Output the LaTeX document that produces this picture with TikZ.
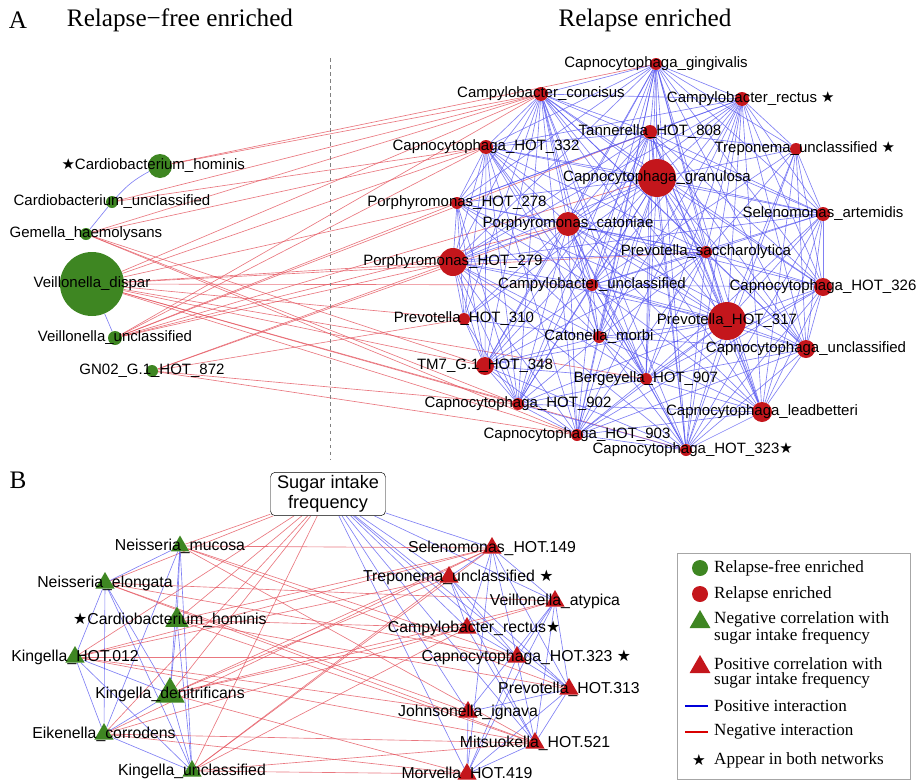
\documentclass[tikz,border=0pt]{standalone}
\usepackage{fontspec}
\setmainfont{Liberation Serif}
\setsansfont{Liberation Sans}
\newfontfamily\starfont{DejaVu Sans}
\usetikzlibrary{shapes.geometric,backgrounds}

\definecolor{freegreen}{RGB}{62,134,34}
\definecolor{relred}{RGB}{196,22,28}
\definecolor{posblue}{RGB}{85,85,240}
\definecolor{negred}{RGB}{228,85,95}
\newcommand{\bstar}{{\starfont ★}}

\tikzset{
  gdot/.style={circle, fill=freegreen, inner sep=0pt, minimum size={#1*0.06cm}},
  rdot/.style={circle, fill=relred, inner sep=0pt, minimum size={#1*0.06cm}},
  gtri/.style={regular polygon, regular polygon sides=3, fill=freegreen, inner sep=0pt, minimum size={#1*0.03cm}},
  rtri/.style={regular polygon, regular polygon sides=3, fill=relred, inner sep=0pt, minimum size={#1*0.03cm}},
  every label/.style={font=\sffamily\fontsize{12.8}{14}\selectfont, inner sep=0pt},
  posedge/.style={posblue, line width=0.55pt, opacity=0.75},
  negedge/.style={negred, line width=0.55pt, opacity=0.8},
  paneltitle/.style={font=\fontsize{21.5}{24}\selectfont, inner sep=0pt},
  legtext/.style={anchor=west, align=left, inner sep=0pt, font=\fontsize{14.6}{13.2}\selectfont},
}

\begin{document}
\begin{tikzpicture}[x=0.03cm, y=-0.03cm]
\useasboundingbox (0,0) rectangle (917,780);

% panel A
\node[paneltitle] (lettera) at (18,20) {A};
\node[paneltitle] (freetitle) at (180,20) {Relapse−free enriched};
\node[paneltitle] (reltitle) at (645,20) {Relapse enriched};
\draw[gray, dashed, line width=0.6pt] (330,58) -- (330,460);

\node[gdot=12, label={center:\llap{\bstar}Cardiobacterium\_hominis}] (hominis) at (160,166) {};
\node[gdot=6, label={center:Cardiobacterium\_unclassified}] (cardun) at (112,202) {};
\node[gdot=6, label={center:Gemella\_haemolysans}] (gemella) at (86,234) {};
\node[gdot=32, label={center:Veillonella\_dispar}] (vdispar) at (92,284) {};
\node[gdot=7, label={center:Veillonella\_unclassified}] (veilun) at (115,338) {};
\node[gdot=6, label={center:GN02\_G.1\_HOT\_872}] (gn02) at (152,371) {};

\node[rdot=6, label={center:Capnocytophaga\_gingivalis}] (gingi) at (656,64) {};
\node[rdot=7, label={center:Campylobacter\_concisus}] (concis) at (541,94) {};
\node[rdot=7, label={center:Campylobacter\_rectus\rlap{ \bstar}}] (rectus) at (742,99) {};
\node[rdot=7, label={center:Tannerella\_HOT\_808}] (tann808) at (650,132) {};
\node[rdot=6, label={center:Treponema\_unclassified\rlap{ \bstar}}] (trepun) at (796,149) {};
\node[rdot=7, label={center:Capnocytophaga\_HOT\_332}] (capno332) at (486,147) {};
\node[rdot=19, label={center:Capnocytophaga\_granulosa}] (granul) at (657,178) {};
\node[rdot=6, label={center:Porphyromonas\_HOT\_278}] (porph278) at (457,203) {};
\node[rdot=12, label={center:Porphyromonas\_catoniae}] (caton) at (568,224) {};
\node[rdot=7, label={center:Selenomonas\_artemidis}] (artem) at (823,214) {};
\node[rdot=6, label={center:Prevotella\_saccharolytica}] (sacch) at (706,252) {};
\node[rdot=14, label={center:Porphyromonas\_HOT\_279}] (porph279) at (453,262) {};
\node[rdot=6, label={center:Campylobacter\_unclassified}] (campun) at (592,285) {};
\node[rdot=9, label={center:Capnocytophaga\_HOT\_326}] (capno326) at (823,287) {};
\node[rdot=19, label={center:Prevotella\_HOT\_317}] (prev317) at (727,321) {};
\node[rdot=6, label={center:Prevotella\_HOT\_310}] (prev310) at (464,319) {};
\node[rdot=6, label={center:Catonella\_morbi}] (morbi) at (599,337) {};
\node[rdot=9, label={center:Capnocytophaga\_unclassified}] (capnoun) at (806,349) {};
\node[rdot=9, label={center:TM7\_G.1\_HOT\_348}] (tm7) at (485,366) {};
\node[rdot=6, label={center:Bergeyella\_HOT\_907}] (berg907) at (646,379) {};
\node[rdot=6, label={center:Capnocytophaga\_HOT\_902}] (capno902) at (518,404) {};
\node[rdot=10, label={center:Capnocytophaga\_leadbetteri}] (leadb) at (762,412) {};
\node[rdot=6, label={center:Capnocytophaga\_HOT\_903}] (capno903) at (577,435) {};
\node[rdot=6, label={center:Capnocytophaga\_HOT\_323\rlap{\bstar}}] (capno323) at (686,450) {};

\begin{pgfonlayer}{background}
% green - green
\draw[posedge] (hominis) to[bend right=10] (cardun);
\draw[posedge] (cardun) -- (gemella);
\draw[posedge] (vdispar) -- (veilun);
% green - red
\foreach \t in {concis,gingi} \draw[negedge] (hominis) -- (\t);
\foreach \t in {concis,capno332} \draw[negedge] (cardun) -- (\t);
\foreach \t in {concis,capno332,tm7,capno902,capno903} \draw[negedge] (gemella) -- (\t);
\foreach \t in {concis,capno332,porph278,porph279,prev310,sacch,campun,tm7,capno902,capno903,berg907,capno323} \draw[negedge] (vdispar) -- (\t);
\foreach \t in {concis,tann808,capno332,porph278,porph279,granul,caton} \draw[negedge] (veilun) -- (\t);
\foreach \t in {porph279,prev310,capno902,capno903,caton} \draw[negedge] (gn02) -- (\t);
% red - red
\foreach \t in {concis,rectus,tann808,trepun,capno332,granul,porph278,caton,artem,sacch,porph279,campun,capno326,prev317,morbi,capnoun,tm7,berg907,capno902,leadb,capno903,capno323} \draw[posedge] (gingi) -- (\t);
\foreach \t in {rectus,tann808,capno332,granul,porph278,caton,sacch,porph279,campun,capno326,prev317,prev310,morbi,capnoun,tm7,berg907,capno902,leadb,capno903,capno323,artem} \draw[posedge] (concis) -- (\t);
\foreach \t in {tann808,trepun,capno332,granul,caton,artem,sacch,porph279,campun,capno326,prev317,morbi,capnoun,berg907,leadb,capno903,capno323,porph278} \draw[posedge] (rectus) -- (\t);
\foreach \t in {trepun,capno332,granul,porph278,caton,artem,sacch,porph279,campun,capno326,prev317,morbi,capnoun,tm7,berg907,capno902,leadb,capno323} \draw[posedge] (tann808) -- (\t);
\foreach \t in {granul,artem,sacch,capno326,prev317,capnoun,leadb,campun,capno323} \draw[posedge] (trepun) -- (\t);
\foreach \t in {granul,porph278,caton,sacch,porph279,campun,prev317,prev310,morbi,tm7,berg907,capno902,capno903,artem} \draw[posedge] (capno332) -- (\t);
\foreach \t in {porph278,caton,artem,sacch,porph279,campun,capno326,prev317,prev310,morbi,capnoun,tm7,berg907,capno902,leadb,capno903,capno323} \draw[posedge] (granul) -- (\t);
\foreach \t in {caton,sacch,porph279,campun,prev310,morbi,tm7,capno902,prev317} \draw[posedge] (porph278) -- (\t);
\foreach \t in {artem,sacch,porph279,campun,capno326,prev317,prev310,morbi,capnoun,tm7,berg907,capno902,leadb,capno903,capno323} \draw[posedge] (caton) -- (\t);
\foreach \t in {sacch,campun,capno326,prev317,capnoun,leadb,berg907,capno323,porph279} \draw[posedge] (artem) -- (\t);
\foreach \t in {porph279,campun,capno326,prev317,morbi,capnoun,berg907,leadb,capno903,capno323,tm7} \draw[posedge] (sacch) -- (\t);
\foreach \t in {campun,prev317,prev310,morbi,tm7,berg907,capno902,capno903,capno323} \draw[posedge] (porph279) -- (\t);
\foreach \t in {capno326,prev317,morbi,capnoun,tm7,berg907,capno902,leadb,capno903,capno323} \draw[posedge] (campun) -- (\t);
\foreach \t in {prev317,capnoun,leadb,capno323,berg907,capno903} \draw[posedge] (capno326) -- (\t);
\foreach \t in {morbi,capnoun,tm7,berg907,capno902,leadb,capno903,capno323} \draw[posedge] (prev317) -- (\t);
\foreach \t in {tm7,capno902,morbi} \draw[posedge] (prev310) -- (\t);
\foreach \t in {capnoun,tm7,berg907,capno902,leadb,capno903,capno323} \draw[posedge] (morbi) -- (\t);
\foreach \t in {berg907,leadb,capno323,capno903} \draw[posedge] (capnoun) -- (\t);
\foreach \t in {berg907,capno902,capno903,capno323} \draw[posedge] (tm7) -- (\t);
\foreach \t in {capno902,leadb,capno903,capno323} \draw[posedge] (berg907) -- (\t);
\foreach \t in {capno903,capno323,leadb} \draw[posedge] (capno902) -- (\t);
\foreach \t in {capno903,capno323} \draw[posedge] (leadb) -- (\t);
\draw[posedge] (capno903) -- (capno323);
\end{pgfonlayer}

% panel B
\node[paneltitle] (letterb) at (18,480) {B};
\node[draw, rounded corners=4pt, align=center, inner sep=1pt, minimum width=3.45cm, minimum height=1.3cm,
  font=\sffamily\fontsize{15.5}{17}\selectfont] (sugar) at (328,494) {Sugar intake\\frequency};

\begin{scope}[every label/.append style={font=\sffamily\fontsize{13.5}{15}\selectfont}]
\node[gtri=21, label={center:Neisseria\_mucosa}] (nmucosa) at (180,546) {};
\node[gtri=22, label={center:Neisseria\_elongata}] (nelong) at (105,583) {};
\node[gtri=27, label={center:\llap{\bstar}Cardiobacterium\_hominis}] (bhominis) at (177,620) {};
\node[gtri=22, label={center:Kingella\_HOT.012}] (king012) at (75,657) {};
\node[gtri=34, label={center:Kingella\_denitrificans}] (kdenit) at (170,694) {};
\node[gtri=22, label={center:Eikenella\_corrodens}] (eikenella) at (104,734) {};
\node[gtri=22, label={center:Kingella\_unclassified}] (kingun) at (192,771) {};

\node[rtri=22, label={center:Selenomonas\_HOT.149}] (sel149) at (492,548) {};
\node[rtri=22, label={center:Treponema\_unclassified\rlap{ \bstar}}] (btrep) at (449,577) {};
\node[rtri=22, label={center:Veillonella\_atypica}] (vatyp) at (555,601) {};
\node[rtri=22, label={center:Campylobacter\_rectus\rlap{\bstar}}] (brectus) at (467,628) {};
\node[rtri=22, label={center:Capnocytophaga\_HOT.323\rlap{ \bstar}}] (b323) at (517,657) {};
\node[rtri=22, label={center:Prevotella\_HOT.313}] (prev313) at (569,689) {};
\node[rtri=22, label={center:Johnsonella\_ignava}] (johns) at (468,712) {};
\node[rtri=22, label={center:Mitsuokella\_HOT.521}] (mits521) at (535,743) {};
\node[rtri=22, label={center:Morvella\_HOT.419}] (morv419) at (467,774) {};
\end{scope}

\begin{pgfonlayer}{background}
\foreach \t in {nmucosa,nelong,bhominis,king012,kdenit,eikenella,kingun} \draw[negedge] (sugar) -- (\t);
\foreach \t in {sel149,btrep,vatyp,brectus,b323,prev313,johns,mits521,morv419} \draw[posedge] (sugar) -- (\t);
% green - green
\foreach \t in {nelong,bhominis,kdenit,eikenella,kingun} \draw[posedge] (nmucosa) -- (\t);
\foreach \t in {king012,eikenella,kdenit,kingun} \draw[posedge] (nelong) -- (\t);
\foreach \t in {kdenit,kingun} \draw[posedge] (bhominis) -- (\t);
\foreach \t in {eikenella,kdenit,kingun} \draw[posedge] (king012) -- (\t);
\foreach \t in {kingun,kdenit} \draw[posedge] (eikenella) -- (\t);
\draw[posedge] (kdenit) -- (kingun);
% red - red
\foreach \t in {vatyp,brectus,b323,prev313,morv419,btrep} \draw[posedge] (sel149) -- (\t);
\foreach \t in {brectus,b323,prev313,mits521} \draw[posedge] (btrep) -- (\t);
\foreach \t in {b323,prev313,mits521,morv419,johns} \draw[posedge] (vatyp) -- (\t);
\foreach \t in {b323,mits521} \draw[posedge] (brectus) -- (\t);
\foreach \t in {prev313,mits521,morv419} \draw[posedge] (b323) -- (\t);
\foreach \t in {mits521,morv419,johns} \draw[posedge] (prev313) -- (\t);
\draw[posedge] (johns) -- (morv419);
\draw[posedge] (mits521) -- (morv419);
% green - red
\foreach \t in {sel149,prev313,mits521,b323} \draw[negedge] (nmucosa) -- (\t);
\foreach \t in {vatyp,b323,mits521,johns} \draw[negedge] (nelong) -- (\t);
\foreach \t in {sel149,prev313,mits521,brectus} \draw[negedge] (bhominis) -- (\t);
\foreach \t in {b323,sel149,btrep,mits521,johns} \draw[negedge] (king012) -- (\t);
\foreach \t in {btrep,sel149,vatyp,brectus,morv419} \draw[negedge] (kdenit) -- (\t);
\foreach \t in {sel149,vatyp,mits521,morv419} \draw[negedge] (eikenella) -- (\t);
\foreach \t in {btrep,brectus,mits521,morv419,sel149} \draw[negedge] (kingun) -- (\t);
\end{pgfonlayer}

% legend
\draw[gray!70, line width=0.6pt] (677,553) rectangle (910,779);
\node[gdot=8] (legfree) at (700,568) {};
\node[legtext] (legfreetext) at (714,568) {Relapse-free enriched};
\node[rdot=8] (legrel) at (700,594) {};
\node[legtext] (legreltext) at (714,594) {Relapse enriched};
\node[gtri=24] (legneg) at (700,622) {};
\node[legtext] (legnegtext) at (714,628) {Negative correlation with\\sugar intake frequency};
\node[rtri=24] (legpos) at (700,667) {};
\node[legtext] (legpostext) at (714,673) {Positive correlation with\\sugar intake frequency};
\coordinate (bluea) at (685,706);
\coordinate (blueb) at (708,706);
\draw[blue!85!black, line width=1.2pt] (bluea) -- (blueb);
\node[legtext] (legposint) at (714,706) {Positive interaction};
\coordinate (reda) at (685,732);
\coordinate (redb) at (708,732);
\draw[red!85!black, line width=1.2pt] (reda) -- (redb);
\node[legtext] (legnegint) at (714,732) {Negative interaction};
\node[inner sep=0pt, font=\starfont\fontsize{13}{13}\selectfont] (legstar) at (699,760) {★};
\node[legtext] (legstartext) at (714,760) {Appear in both networks};

\end{tikzpicture}
\end{document}
